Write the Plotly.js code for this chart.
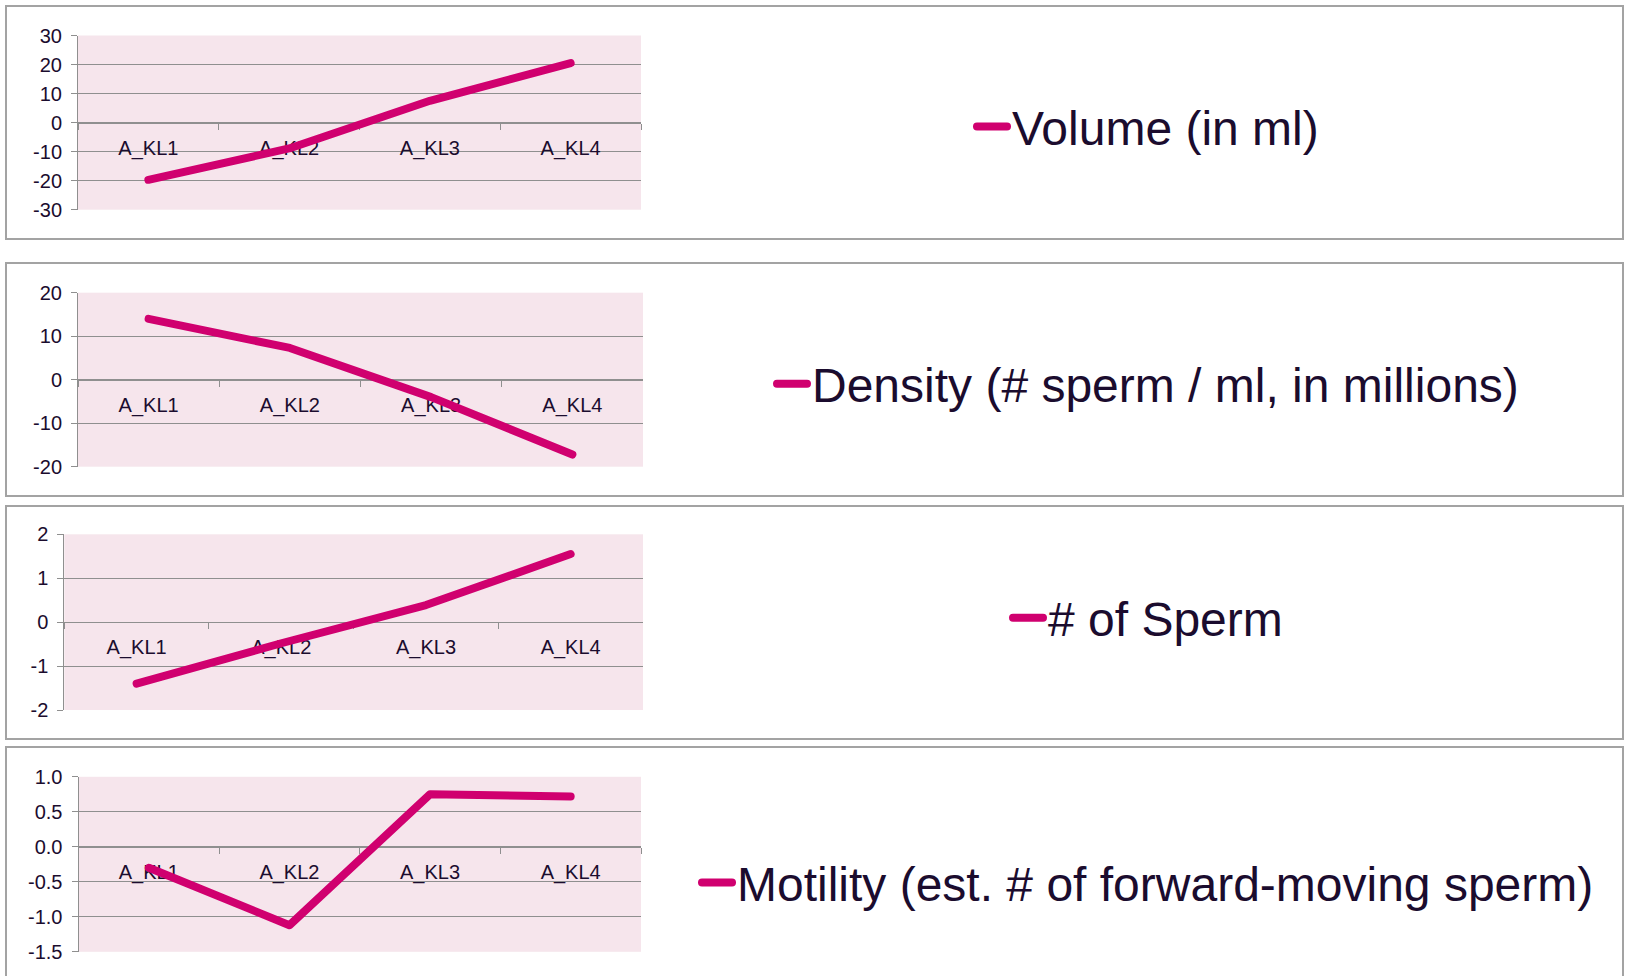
<!DOCTYPE html>
<html>
<head>
<meta charset="utf-8">
<script src="https://cdn.plot.ly/plotly-3.0.1.min.js"></script>
<style>
  html, body { margin: 0; padding: 0; background: #ffffff; }
  #chart { width: 1626px; height: 976px; }
  .scatterlayer .js-line { stroke-linecap: round; stroke-linejoin: round; }
  .legendlines path { stroke-linecap: round; }
</style>
</head>
<body>
<div id="chart"></div>
<script>
// ---- data ----
const categories = ['A_KL1', 'A_KL2', 'A_KL3', 'A_KL4'];
const volume     = [-19.7, -8.9, 7.5, 20.5];
const density    = [14.0, 7.3, -4.0, -17.2];
const spermCount = [-1.4, -0.48, 0.39, 1.55];
const motility   = [-0.30, -1.12, 0.75, 0.72];

const seriesNames = [
  'Volume (in ml)',
  'Density (# sperm / ml, in millions)',
  '# of Sperm',
  'Motility (est. # of forward-moving sperm)'
];
const seriesValues = [volume, density, spermCount, motility];

// y tick values and their labels (hyphen minus as in the original)
const volumeTicks     = [-30, -20, -10, 0, 10, 20, 30];
const volumeLabels    = ['-30', '-20', '-10', '0', '10', '20', '30'];
const densityTicks    = [-20, -10, 0, 10, 20];
const densityLabels   = ['-20', '-10', '0', '10', '20'];
const spermTicks      = [-2, -1, 0, 1, 2];
const spermLabels     = ['-2', '-1', '0', '1', '2'];
const motilityTicks   = [-1.5, -1.0, -0.5, 0.0, 0.5, 1.0];
const motilityLabels  = ['-1.5', '-1.0', '-0.5', '0.0', '0.5', '1.0'];

const yTickVals = [volumeTicks, densityTicks, spermTicks, motilityTicks];
const yTickText = [volumeLabels, densityLabels, spermLabels, motilityLabels];
const yRanges = [[-30, 30], [-20, 20], [-2, 2], [-1.5, 1.0]];

// ---- layout geometry (pixels in a 1626x976 canvas) ----
const W = 1626, H = 976;
const plotBoxes = [ // [left, right, top, bottom]
  [78, 641, 35.5, 209.7],
  [78, 643, 292.7, 466.7],
  [64.3, 643, 534.3, 710],
  [78.5, 641, 776.8, 951.8]
];
const frames = [ // [top, bottom]
  [6, 239], [263, 496], [506, 739], [747, 1000]
];
const legendY = [126.7, 384, 618, 882.7];
const legendX = 1148;

const lineColor = '#d0006f';
const textColor = '#1b0c2e';
const gridColor = '#8f8f8f';

const traces = [];
const layout = {
  width: W, height: H,
  margin: {l: 0, r: 0, t: 0, b: 0},
  paper_bgcolor: '#ffffff',
  plot_bgcolor: '#f6e5ec',
  showlegend: true,
  font: {family: 'Liberation Sans, Arial, sans-serif', color: textColor},
  shapes: []
};

for (let i = 0; i < 4; i++) {
  const n = i === 0 ? '' : String(i + 1);
  const [l, r, t, b] = plotBoxes[i];
  const ydom = [1 - b / H, 1 - t / H];
  const [ymin, ymax] = yRanges[i];
  const zeroPos = ydom[0] + (0 - ymin) / (ymax - ymin) * (ydom[1] - ydom[0]);

  traces.push({
    type: 'scatter', mode: 'lines',
    x: categories, y: seriesValues[i],
    name: seriesNames[i],
    xaxis: 'x' + n, yaxis: 'y' + n,
    legend: 'legend' + n,
    showlegend: true,
    line: {color: lineColor, width: 8},
    hoverinfo: 'skip'
  });

  layout['xaxis' + n] = {
    domain: [l / W, r / W],
    anchor: 'free', position: zeroPos,
    type: 'category',
    range: [-0.5, categories.length - 0.5],
    showline: true, linecolor: gridColor, linewidth: 1,
    showgrid: false, zeroline: false,
    ticks: 'outside', tickson: 'boundaries', ticklen: 6, tickcolor: gridColor,
    ticklabelstandoff: 7,
    tickfont: {size: 20, color: textColor},
    layer: 'below traces',
    fixedrange: true
  };
  layout['yaxis' + n] = {
    domain: ydom,
    anchor: 'x' + n,
    range: yRanges[i],
    tickmode: 'array', tickvals: yTickVals[i], ticktext: yTickText[i],
    showline: true, linecolor: gridColor, linewidth: 1,
    showgrid: true, gridcolor: gridColor, gridwidth: 1,
    zeroline: true, zerolinecolor: gridColor, zerolinewidth: 1,
    ticks: 'outside', ticklen: 6, tickcolor: gridColor,
    ticklabelstandoff: 5,
    tickfont: {size: 20, color: textColor},
    layer: 'below traces',
    fixedrange: true
  };

  layout['legend' + n] = {
    x: legendX / W, y: 1 - legendY[i] / H,
    xanchor: 'center', yanchor: 'middle',
    bgcolor: 'rgba(0,0,0,0)',
    font: {size: 48, color: textColor, family: 'Liberation Sans, Arial, sans-serif'},
    itemclick: false, itemdoubleclick: false
  };

  layout.shapes.push({
    type: 'rect', xref: 'paper', yref: 'paper',
    x0: 6 / W, x1: 1623 / W,
    y0: 1 - frames[i][1] / H, y1: 1 - frames[i][0] / H,
    line: {color: '#a3a3a3', width: 2},
    fillcolor: 'rgba(0,0,0,0)',
    layer: 'below'
  });
}

Plotly.newPlot('chart', traces, layout, {displayModeBar: false, staticPlot: true});
</script>
</body>
</html>
